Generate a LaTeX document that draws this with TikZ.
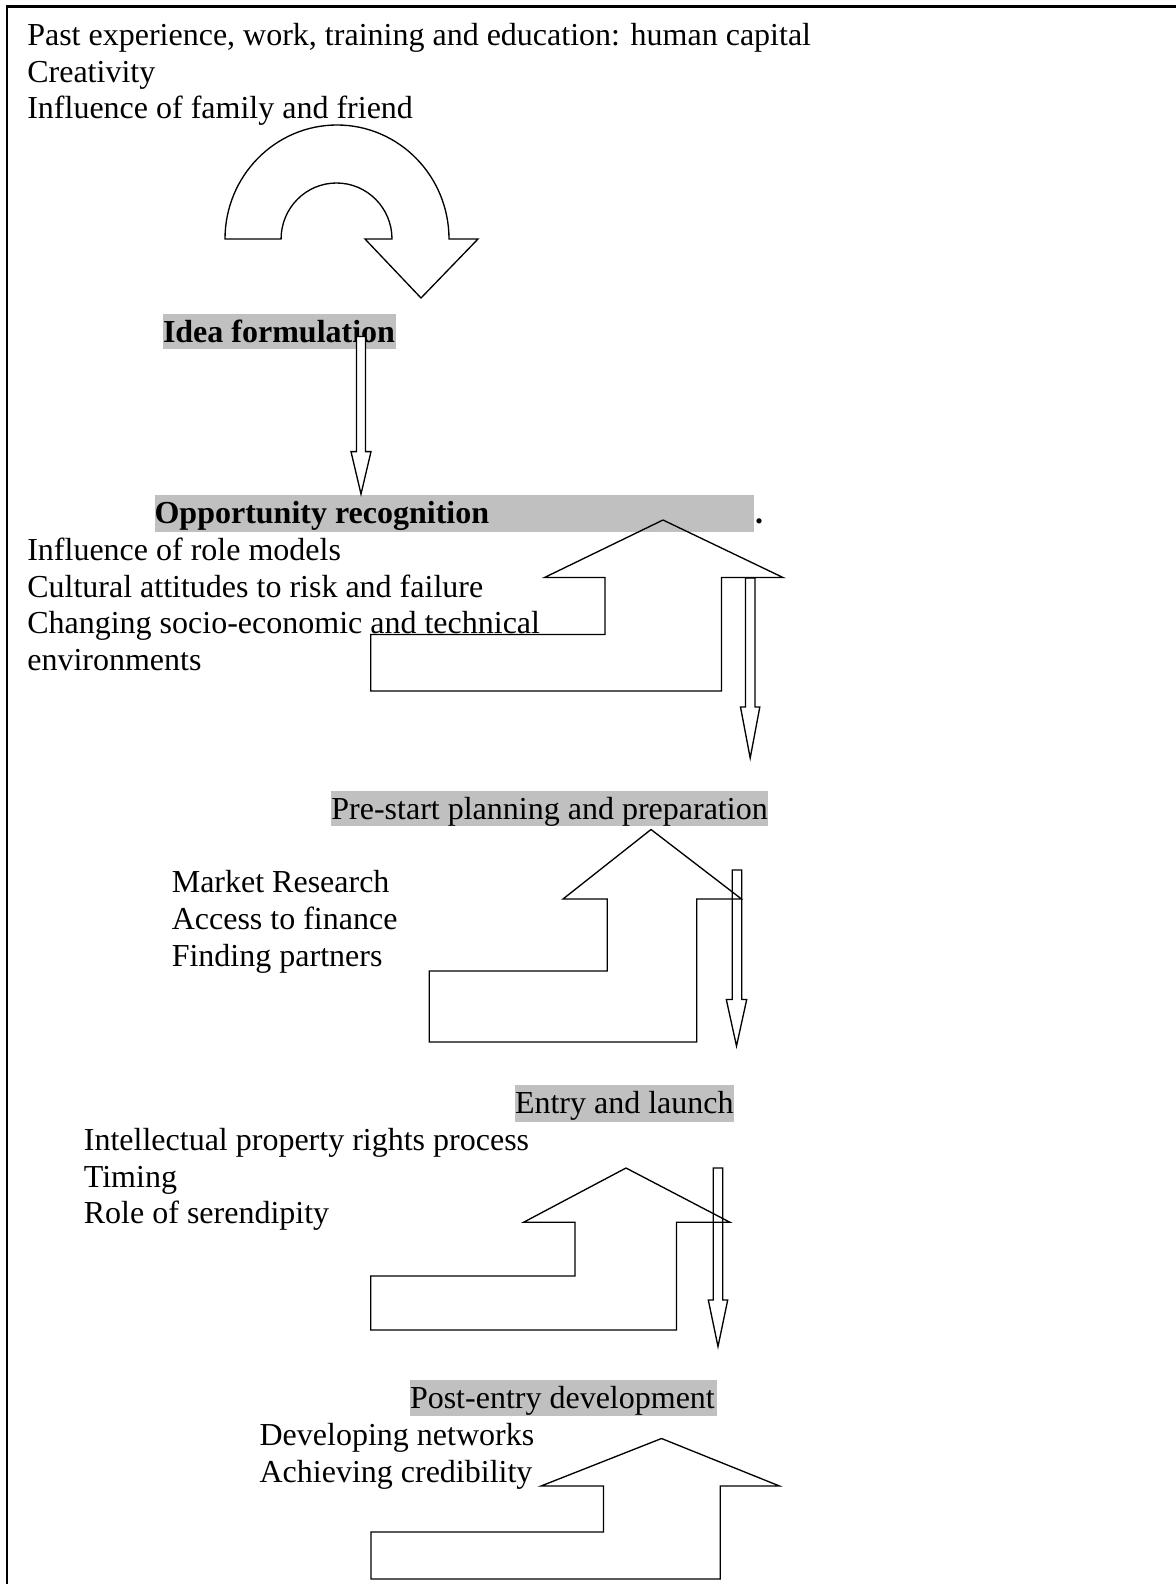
\documentclass[tikz,border=0pt]{standalone}
\usepackage{fontspec}
\setmainfont{Liberation Serif}
\definecolor{hlgray}{RGB}{192,192,192}
\tikzset{
  txt/.style={anchor=base west, inner sep=0pt, outer sep=0pt, font=\fontsize{12}{13.8}\selectfont},
  btxt/.style={txt, font=\fontsize{12}{13.8}\selectfont\bfseries},
  hl/.style={fill=hlgray},
  blockline/.style={draw=black, line width=0.5pt, line join=miter},
  shaft/.style={blockline, fill=white},
  frameline/.style={draw=black, line width=0.8pt}
}
\begin{document}
\begin{tikzpicture}[x=0.375pt, y=-0.375pt]
\useasboundingbox (0,0) rectangle (1176,1584);
% frame
\draw[frameline] (7,1584) -- (7,6.5) -- (1176,6.5);

% highlight boxes
\fill[hl] (163,314) rectangle (396,349);
\fill[hl] (154.6,495) rectangle (754,531.5);
\fill[hl] (331.4,791) rectangle (767.8,826.4);
\fill[hl] (515,1085) rectangle (734,1121.5);
\fill[hl] (410,1380) rectangle (717,1415.5);

% texts
\node[txt] (a1) at (27.3,45.4) {Past experience, work, training and education: human capital};
\node[txt] (a2) at (27.3,82.2) {Creativity};
\node[txt] (a3) at (27.3,119.0) {Influence of family and friend};

\node[btxt] (idea) at (163,342.5) {Idea formulation};
\node[btxt] (opp) at (154.6,523.5) {Opportunity recognition};
\node[btxt] (dot) at (755,523.5) {.};

\node[txt] (b1) at (27.3,560.3) {Influence of role models};
\node[txt] (b2) at (27.3,597.1) {Cultural attitudes to risk and failure};
\node[txt] (b3) at (27.3,633.9) {Changing socio-economic and technical};
\node[txt] (b4) at (27.3,670.7) {environments};

\node[txt] (pre) at (331.4,819.5) {Pre-start planning and preparation};
\node[txt] (c1) at (171.8,892.8) {Market Research};
\node[txt] (c2) at (171.8,929.6) {Access to finance};
\node[txt] (c3) at (171.8,966.4) {Finding partners};

\node[txt] (entry) at (515,1113.5) {Entry and launch};
\node[txt] (d1) at (83.9,1150.3) {Intellectual property rights process};
\node[txt] (d2) at (83.9,1187.1) {Timing};
\node[txt] (d3) at (83.9,1223.9) {Role of serendipity};

\node[txt] (post) at (410,1408.5) {Post-entry development};
\node[txt] (e1) at (259.6,1445.3) {Developing networks};
\node[txt] (e2) at (259.6,1482.1) {Achieving credibility};

% U-turn arrow
\draw[blockline] (225,239) arc[start angle=180, end angle=0, x radius=42pt, y radius=42.75pt]
  -- (478,239) -- (421,298) -- (365,239) -- (392,239)
  arc[start angle=0, end angle=180, x radius=20.8pt, y radius=21pt] -- cycle;

% narrow down arrows
\draw[shaft] (356.5,336.5) -- (365.5,336.5) -- (365.5,451.6) -- (371,451.6) -- (361,494) -- (351,451.6) -- (356.5,451.6) -- cycle;
\draw[shaft] (745.5,578) -- (755,578) -- (755,707) -- (759.8,707) -- (750.2,758) -- (740.5,707) -- (745.5,707) -- cycle;
\draw[shaft] (732.3,870) -- (741.7,870) -- (741.7,999.5) -- (746.7,999.5) -- (736.5,1046) -- (726.3,999.5) -- (732.3,999.5) -- cycle;
\draw[shaft] (713.3,1168) -- (722.7,1168) -- (722.7,1300) -- (727.7,1300) -- (718,1346.5) -- (708.3,1300) -- (713.3,1300) -- cycle;

% house-shaped arrows
\draw[blockline] (663,520) -- (783,577.5) -- (721.5,577.5) -- (721.5,691) -- (370.8,691) -- (370.8,634.5) -- (605,634.5) -- (605,577.5) -- (544.5,577.5) -- cycle;
\draw[blockline] (651,829.5) -- (741.5,899) -- (696.8,899) -- (696.8,1042) -- (429.2,1042) -- (429.2,971) -- (607.3,971) -- (607.3,899) -- (563,899) -- cycle;
\draw[blockline] (626,1168) -- (730,1222.3) -- (676.5,1222.3) -- (676.5,1330) -- (370.8,1330) -- (370.8,1276) -- (575,1276) -- (575,1222.3) -- (523.5,1222.3) -- cycle;
\draw[blockline] (661.5,1438.5) -- (779.5,1486) -- (720.3,1486) -- (720.3,1579) -- (371,1579) -- (371,1532) -- (603.5,1532) -- (603.5,1486) -- (541,1486) -- cycle;
\end{tikzpicture}
\end{document}
